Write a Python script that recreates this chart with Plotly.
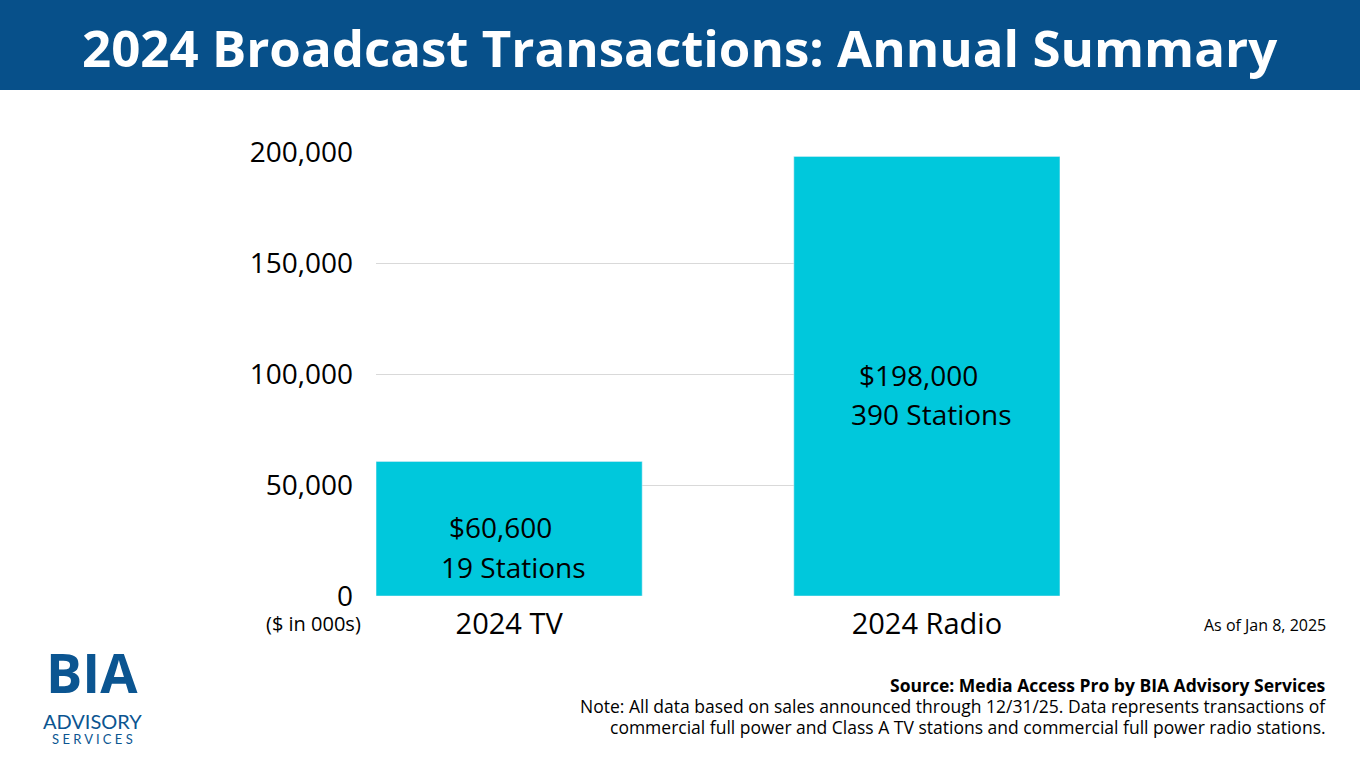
import plotly.graph_objects as go

categories = ["2024 TV", "2024 Radio"]
values = [60600, 198000]
labels_value = ["$60,600", "$198,000"]
labels_stations = ["19 Stations", "390 Stations"]
y_ticks = [0, 50000, 100000, 150000, 200000]

W, H = 1360, 768
def px(x): return x / W
def py(y): return 1 - y / H

fig = go.Figure(go.Bar(x=[0, 1], y=values, marker_color="#00C8DC", width=0.637,
                       hoverinfo="skip"))
fig.update_layout(
    width=W, height=H, margin=dict(l=0, r=0, t=0, b=0, autoexpand=False),
    paper_bgcolor="white", plot_bgcolor="white", showlegend=False,
    font=dict(family="Open Sans", color="black"),
    xaxis=dict(domain=[px(376), px(1060)], range=[-0.3186, 1.3186],
               tickvals=[0, 1], ticktext=categories, showgrid=False,
               zeroline=False, showline=False, ticks="", ticklabelstandoff=8,
               tickfont=dict(size=29, family="Open Sans")),
    yaxis=dict(domain=[py(596), py(152)], range=[0, 200000],
               tickvals=y_ticks, tickformat=",", showgrid=True,
               gridcolor="#D9D9D9", gridwidth=1, zeroline=False,
               ticks="", ticklabelstandoff=22,
               tickfont=dict(size=28, family="Open Sans")),
    shapes=[dict(type="rect", xref="paper", yref="paper", x0=0, x1=1,
                 y0=py(90), y1=1, fillcolor="#07508A", line_width=0, layer="below")],
)
ann = []
ann.append(dict(text="<b>2024 Broadcast Transactions: Annual Summary</b>", x=0.5, y=py(47),
                font=dict(size=51, color="white", family="Open Sans")))
for i in range(2):
    ann.append(dict(text=labels_value[i], x=i - 0.02, xref="x", y=py([527, 375][i]),
                    font=dict(size=28)))
    ann.append(dict(text=labels_stations[i], x=i + 0.01, xref="x", y=py([567, 414][i]),
                    font=dict(size=28)))
ann += [
    dict(text="($ in 000s)", x=px(313), y=py(623), font=dict(size=20)),
    dict(text="As of Jan 8, 2025", x=px(1328), y=py(625), xanchor="right", font=dict(size=16)),
    dict(text="<b>Source: Media Access Pro by BIA Advisory Services</b>", x=px(1328), y=py(685),
         xanchor="right", font=dict(size=17.5)),
    dict(text="Note: All data based on sales announced through 12/31/25. Data represents transactions of",
         x=px(1328), y=py(706), xanchor="right", font=dict(size=17.5)),
    dict(text="commercial full power and Class A TV stations and commercial full power radio stations.",
         x=px(1328), y=py(727), xanchor="right", font=dict(size=17.5)),
    dict(text="<b>BIA</b>", x=px(92), y=py(672), font=dict(size=54, color="#0B5591", family="Open Sans")),
    dict(text="ADVISORY", x=px(92), y=py(721), font=dict(size=20, color="#0B5591", family="Lato")),
    dict(text="S E R V I C E S", x=px(92), y=py(739), font=dict(size=13, color="#0B5591", family="Lato")),
]
for a in ann:
    a.setdefault("xref", "paper")
    a.setdefault("yref", "paper")
    a.setdefault("showarrow", False)
    a.setdefault("yanchor", "middle")
    a.setdefault("xanchor", "center")
fig.update_layout(annotations=ann)
fig.write_html("out.html", config={"displayModeBar": False},
               post_script="document.body.style.margin='0';document.body.style.overflow='hidden';")
